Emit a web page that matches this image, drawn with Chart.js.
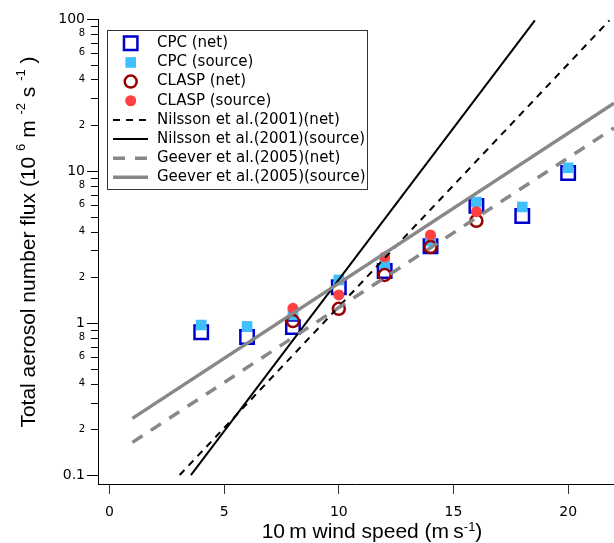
<!DOCTYPE html>
<html><head><meta charset="utf-8">
<script src="https://cdn.jsdelivr.net/npm/chart.js@4/dist/chart.umd.min.js"></script>
<style>html,body{margin:0;padding:0;background:#fff}canvas{display:block}</style>
</head><body>
<canvas id="c" width="614" height="543"></canvas>
<script>
// ---- data ----
const windSpeed   = [4, 6, 8, 10, 12, 14, 16, 18, 20];
const cpcNet      = [0.87, 0.81, 0.94, 1.72, 2.2, 3.2, 5.9, 5.06, 9.7];
const cpcSource   = [0.97, 0.95, 1.13, 1.92, 2.44, 3.46, 6.25, 5.8, 10.5];
const claspWind   = [8, 10, 12, 14, 16];
const claspNet    = [1.03, 1.24, 2.07, 3.16, 4.7];
const claspSource = [1.25, 1.53, 2.72, 3.8, 5.4];
const nilssonNetWind = [3.06, 21.8];
const nilssonNet     = [0.1, 98];
const nilssonSrcWind = [3.55, 18.55];
const nilssonSrc     = [0.1, 98];
const geeverWind     = [1, 22];
const geeverNet      = [0.164, 19.2];
const geeverSrc      = [0.236, 27.9];
const xTicks = [0, 5, 10, 15, 20];
const yDecades = [0.1, 1, 10, 100];
const yMantissas = [1, 2, 3, 4, 5, 6, 7, 8, 9];
const yLabelledMantissas = [2, 4, 6, 8];
const seriesLabels = ['CPC (net)', 'CPC (source)', 'CLASP (net)', 'CLASP (source)',
  'Nilsson et al.(2001)(net)', 'Nilsson et al.(2001)(source)',
  'Geever et al.(2005)(net)', 'Geever et al.(2005)(source)'];

const pts = (xs, ys) => xs.map((x, i) => ({x: x, y: ys[i]}));
const TICK_FONT = 'DejaVu Sans';
const TITLE_FONT = '"Liberation Sans", Arial, sans-serif';

function mantissa(v) {
  const e = Math.floor(Math.log10(v) + 1e-9);
  return Math.round(v / Math.pow(10, e));
}
function isMajor(v) { return yDecades.some(d => Math.abs(d - v) / d < 1e-6); }

function markerSet(label, xs, ys, style, r, fill, stroke, bw, order) {
  return {label, data: pts(xs, ys), showLine: false, pointStyle: style, pointRadius: r,
    pointHoverRadius: r, pointBackgroundColor: fill, pointBorderColor: stroke,
    pointBorderWidth: bw, backgroundColor: fill, borderColor: stroke, borderWidth: bw, order};
}
function lineSet(label, xs, ys, color, width, dash, order) {
  return {label, data: pts(xs, ys), showLine: true, pointRadius: 0, pointHoverRadius: 0,
    borderColor: color, backgroundColor: color, borderWidth: width, borderDash: dash,
    fill: false, tension: 0, order};
}

const datasets = [
  markerSet(seriesLabels[0], windSpeed, cpcNet, 'rect', 9.5, 'rgba(0,0,0,0)', '#0000CC', 2.5, 8),
  markerSet(seriesLabels[1], windSpeed, cpcSource, 'rect', 7.5, '#40BFFF', '#40BFFF', 0, 7),
  markerSet(seriesLabels[2], claspWind, claspNet, 'circle', 6, 'rgba(0,0,0,0)', '#990000', 2.5, 6),
  markerSet(seriesLabels[3], claspWind, claspSource, 'circle', 5.5, '#FF4040', '#FF4040', 0, 5),
  lineSet(seriesLabels[4], nilssonNetWind, nilssonNet, '#000000', 2, [7, 6], 4),
  lineSet(seriesLabels[5], nilssonSrcWind, nilssonSrc, '#000000', 2, [], 3),
  lineSet(seriesLabels[6], geeverWind, geeverNet, '#888888', 3.5, [12, 10], 2),
  lineSet(seriesLabels[7], geeverWind, geeverSrc, '#888888', 3.5, [], 1)
];

// ---- decorations: minor ticks, axis titles, legend box ----
function drawRich(ctx, segs, cx, baseY, mainSize, supSize, raise) {
  const mainF = mainSize + 'px ' + TITLE_FONT, supF = supSize + 'px ' + TITLE_FONT;
  let w = 0;
  segs.forEach(s => { ctx.font = s.sup ? supF : mainF; w += ctx.measureText(s.t).width; });
  let x = cx - w / 2;
  ctx.textBaseline = 'alphabetic'; ctx.textAlign = 'left';
  segs.forEach(s => {
    ctx.font = s.sup ? supF : mainF;
    ctx.fillText(s.t, x, s.sup ? baseY - raise : baseY);
    x += ctx.measureText(s.t).width;
  });
}

const decor = {
  id: 'decor',
  afterDraw(chart) {
    const ctx = chart.ctx;
    const ys = chart.scales.y;
    ctx.save();
    // minor ticks on y axis
    ctx.strokeStyle = '#000'; ctx.lineWidth = 1;
    ys.ticks.forEach(t => {
      if (isMajor(t.value)) return;
      const py = Math.round(ys.getPixelForValue(t.value)) + 0.5;
      ctx.beginPath(); ctx.moveTo(ys.right - 7, py); ctx.lineTo(ys.right, py); ctx.stroke();
    });
    // axis titles
    ctx.fillStyle = '#000';
    drawRich(ctx, [{t: '10\u2009m wind speed (m\u2009s'}, {t: '-1', sup: true}, {t: ')'}],
      372, 538, 21, 13, 7);
    ctx.save();
    ctx.translate(35, 242); ctx.rotate(-Math.PI / 2);
    drawRich(ctx, [{t: 'Total aerosol number flux (10 '}, {t: '6', sup: true}, {t: ' m '},
      {t: '-2', sup: true}, {t: ' s '}, {t: '-1', sup: true}, {t: ' )'}], 0, 0, 21, 13, 10);
    ctx.restore();
    // legend box
    ctx.strokeStyle = '#333'; ctx.lineWidth = 1; ctx.setLineDash([]);
    ctx.fillStyle = '#fff';
    ctx.fillRect(107.5, 30.5, 260, 159);
    ctx.strokeRect(107.5, 30.5, 260, 159);
    chart.data.datasets.forEach((ds, i) => {
      const y = 43.3 + i * 19.15;
      if (ds.showLine) {
        ctx.beginPath(); ctx.setLineDash(ds.borderDash || []);
        ctx.strokeStyle = ds.borderColor; ctx.lineWidth = ds.borderWidth;
        ctx.moveTo(113, y); ctx.lineTo(148, y); ctx.stroke(); ctx.setLineDash([]);
      } else {
        ctx.fillStyle = ds.pointBackgroundColor; ctx.strokeStyle = ds.pointBorderColor;
        ctx.lineWidth = ds.pointBorderWidth;
        Chart.helpers.drawPoint(ctx, {pointStyle: ds.pointStyle, radius: ds.pointRadius,
          borderWidth: ds.pointBorderWidth, rotation: 0}, 130.7, y);
      }
      ctx.fillStyle = '#000'; ctx.font = '15px ' + TICK_FONT;
      ctx.textAlign = 'left'; ctx.textBaseline = 'middle';
      ctx.fillText(ds.label, 157, y);
    });
    ctx.restore();
  }
};

new Chart(document.getElementById('c'), {
  type: 'scatter',
  data: {datasets},
  options: {
    responsive: false, devicePixelRatio: 1, animation: false, events: [],
    layout: {autoPadding: false, padding: {top: 19, right: 0, bottom: 0, left: 0}},
    plugins: {legend: {display: false}, tooltip: {enabled: false}},
    scales: {
      x: {
        type: 'linear', min: -0.5, max: 22, bounds: 'data',
        afterBuildTicks: s => { s.ticks = xTicks.map(v => ({value: v})); },
        afterFit: s => { s.height = 59; s.paddingLeft = 0; s.paddingRight = 0; },
        grid: {display: true, drawOnChartArea: false, drawTicks: true, tickLength: 10, tickColor: '#333'},
        border: {display: true, color: '#000', width: 1},
        ticks: {autoSkip: false, maxRotation: 0, padding: 10, color: '#000',
          font: {family: TICK_FONT, size: 14}, callback: v => String(v)}
      },
      y: {
        type: 'logarithmic', min: 0.0873, max: 100, bounds: 'data',
        afterBuildTicks: s => {
          const t = [];
          yDecades.forEach(d => yMantissas.forEach(m => {
            const v = Number((m * d).toPrecision(6));
            if (v >= s.min && v <= s.max * 1.000001) t.push({value: v, major: m === 1});
          }));
          s.ticks = t;
        },
        afterFit: s => { s.width = 98; s.paddingTop = 0; s.paddingBottom = 0; },
        grid: {display: true, drawOnChartArea: false, drawTicks: true, tickLength: 11,
          tickColor: c => (c.tick && isMajor(c.tick.value)) ? '#000' : 'rgba(0,0,0,0)'},
        border: {display: true, color: '#000', width: 1},
        ticks: {autoSkip: false, padding: 2, color: '#000',
          font: c => (c.tick && isMajor(c.tick.value)) ? {family: TICK_FONT, size: 14} : {family: TICK_FONT, size: 10},
          callback: v => {
            if (isMajor(v)) return String(v);
            const m = mantissa(v);
            return yLabelledMantissas.includes(m) ? String(m) : '';
          }}
      }
    }
  },
  plugins: [decor]
});
</script>
</body></html>
